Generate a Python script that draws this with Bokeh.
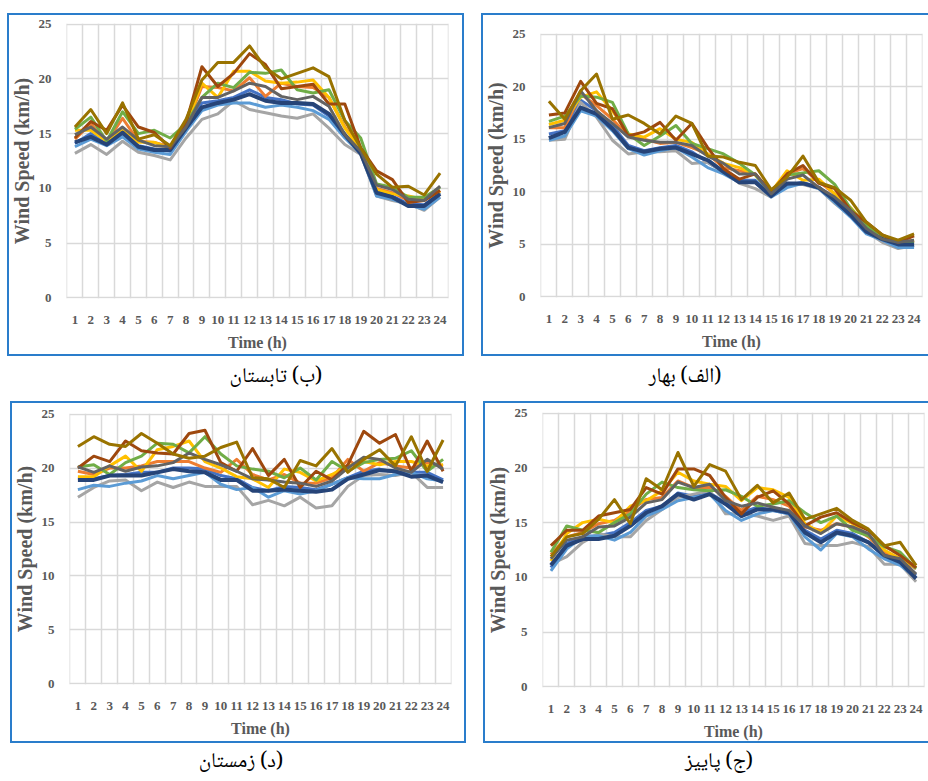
from bokeh.plotting import figure
from bokeh.models import Range1d, FixedTicker, Div, Spacer
from bokeh.layouts import row, column
from bokeh.embed import file_html
from bokeh.resources import INLINE

hours = list(range(1, 25))
hour_labels = [str(h) for h in hours]
y_ticks = [0, 5, 10, 15, 20, 25]
x_title = "Time (h)"
y_title = "Wind Speed (km/h)"

series_keys = ["blue", "orange", "gray", "gold", "lightblue", "green", "navy", "brown", "darkgray", "olive"]
series_colors = ["#4472C4", "#ED7D31", "#A5A5A5", "#FFC000", "#5B9BD5", "#70AD47", "#264478", "#9E480E", "#636363", "#997300"]

# ---- (ب) تابستان  (summer) ----
summer_blue = [14.1, 15.0, 14.0, 14.9, 13.9, 13.6, 13.4, 15.4, 17.8, 18.0, 18.3, 19.0, 18.3, 18.1, 17.7, 17.6, 16.6, 14.8, 13.3, 9.7, 9.3, 8.6, 8.5, 9.6]
summer_orange = [14.5, 15.9, 14.2, 16.4, 14.3, 14.2, 13.8, 15.6, 19.3, 19.2, 18.9, 20.1, 18.4, 19.6, 19.3, 19.2, 18.3, 15.6, 13.6, 10.0, 9.6, 8.9, 8.9, 9.8]
summer_gray = [13.2, 14.0, 13.1, 14.3, 13.3, 13.0, 12.6, 14.6, 16.3, 16.8, 18.0, 17.2, 16.9, 16.6, 16.4, 16.8, 15.5, 14.0, 13.1, 9.3, 8.9, 8.6, 8.0, 9.2]
summer_gold = [15.3, 15.3, 14.3, 15.3, 14.2, 14.2, 13.7, 15.8, 19.6, 18.3, 20.7, 20.7, 19.8, 19.6, 19.7, 19.9, 18.3, 15.5, 13.5, 9.9, 9.5, 9.3, 9.0, 9.7]
summer_lightblue = [13.8, 14.5, 13.9, 14.7, 13.6, 13.3, 13.1, 15.2, 17.1, 17.6, 17.8, 17.8, 17.4, 17.6, 17.4, 17.1, 16.3, 14.6, 13.2, 9.3, 9.0, 8.5, 8.1, 9.2]
summer_green = [15.4, 16.5, 14.3, 17.0, 15.0, 15.3, 14.6, 15.9, 18.3, 19.6, 19.2, 20.6, 20.5, 20.8, 19.0, 18.7, 19.0, 16.2, 14.6, 10.4, 10.1, 9.2, 9.2, 10.1]
summer_navy = [14.2, 14.7, 14.0, 15.1, 13.8, 13.5, 13.5, 15.5, 17.4, 17.8, 18.1, 18.6, 18.0, 17.8, 17.8, 17.7, 16.8, 14.9, 13.2, 9.6, 9.2, 8.4, 8.4, 9.5]
summer_brown = [14.6, 16.1, 15.3, 17.6, 15.6, 15.1, 13.7, 16.0, 21.1, 19.3, 20.5, 22.3, 21.3, 19.1, 19.3, 19.5, 17.7, 17.7, 13.7, 11.6, 10.8, 8.7, 8.9, 9.8]
summer_darkgray = [14.9, 15.6, 14.5, 15.6, 14.4, 13.9, 13.8, 15.6, 18.3, 18.3, 18.9, 19.6, 19.3, 18.4, 18.1, 18.4, 17.5, 14.9, 13.4, 10.3, 9.9, 9.0, 8.9, 10.2]
summer_olive = [15.6, 17.2, 15.0, 17.8, 14.5, 14.9, 13.9, 16.3, 19.9, 21.5, 21.5, 23.0, 21.0, 20.0, 20.5, 21.0, 20.2, 16.2, 13.7, 11.3, 10.1, 10.2, 9.4, 11.4]

# ---- (الف) بهار  (spring) ----
spring_blue = [15.5, 15.8, 18.7, 17.7, 16.3, 14.4, 13.9, 14.2, 14.4, 13.8, 12.8, 11.9, 11.1, 11.1, 9.7, 10.6, 10.9, 10.4, 9.3, 7.9, 6.3, 5.5, 4.9, 4.9]
spring_orange = [16.1, 16.1, 19.3, 18.2, 16.9, 15.3, 15.0, 14.6, 14.7, 14.2, 13.6, 12.3, 12.0, 11.7, 9.9, 11.7, 12.2, 11.0, 9.8, 8.2, 6.6, 5.6, 5.1, 5.3]
spring_gray = [14.9, 15.0, 18.5, 17.1, 14.9, 13.6, 13.8, 13.8, 13.9, 12.7, 12.8, 11.9, 10.8, 10.3, 9.5, 10.8, 10.7, 10.3, 8.9, 7.7, 6.2, 5.2, 4.6, 4.9]
spring_gold = [16.4, 16.8, 19.0, 19.5, 17.7, 15.5, 15.2, 16.0, 15.0, 14.7, 13.6, 12.7, 12.3, 11.6, 10.0, 12.0, 11.1, 11.2, 9.8, 8.5, 6.8, 5.6, 5.1, 5.4]
spring_lightblue = [14.9, 15.3, 17.7, 17.2, 15.8, 14.1, 13.5, 13.9, 14.2, 13.3, 12.3, 11.7, 10.9, 10.9, 9.5, 10.4, 10.8, 10.3, 9.0, 7.6, 6.0, 5.4, 4.7, 4.7]
spring_green = [16.7, 17.2, 19.1, 19.0, 18.5, 15.5, 14.4, 15.3, 16.3, 14.6, 14.1, 13.6, 12.7, 11.6, 9.9, 11.6, 11.8, 12.0, 10.7, 8.4, 6.8, 5.6, 5.1, 5.1]
spring_navy = [15.1, 15.7, 18.0, 17.4, 16.0, 14.2, 13.8, 14.1, 14.2, 13.6, 13.0, 11.9, 10.9, 10.9, 9.6, 10.8, 10.8, 10.4, 9.2, 7.8, 6.2, 5.5, 5.0, 5.0]
spring_brown = [17.3, 17.5, 20.5, 18.4, 17.9, 15.3, 15.7, 16.6, 14.9, 16.5, 14.2, 12.2, 11.2, 11.7, 10.0, 11.7, 12.5, 10.8, 10.3, 8.2, 7.1, 5.9, 5.2, 5.8]
spring_darkgray = [16.1, 16.5, 19.6, 17.7, 16.5, 15.2, 14.9, 14.7, 14.7, 14.4, 13.4, 12.7, 11.7, 11.7, 9.8, 11.2, 11.6, 10.4, 9.5, 8.2, 6.5, 5.5, 5.2, 5.4]
spring_olive = [18.6, 16.9, 19.6, 21.2, 16.9, 17.3, 16.5, 15.5, 17.2, 16.5, 13.4, 13.3, 12.8, 12.5, 10.2, 11.4, 13.4, 10.9, 10.4, 9.2, 7.1, 5.9, 5.4, 6.0]

# ---- (د) زمستان  (winter) ----
winter_blue = [19.0, 19.0, 19.3, 19.4, 19.6, 19.6, 20.0, 20.0, 19.9, 19.3, 19.0, 18.2, 17.9, 18.3, 18.2, 18.0, 18.5, 19.1, 19.7, 19.9, 19.6, 19.6, 19.6, 18.9]
winter_orange = [19.7, 19.4, 20.0, 20.0, 20.2, 20.6, 20.6, 20.6, 20.0, 19.6, 20.8, 19.4, 18.9, 19.4, 18.6, 18.6, 19.1, 20.8, 19.7, 20.5, 20.2, 20.0, 20.5, 20.2]
winter_gray = [17.3, 18.2, 18.8, 18.9, 17.9, 18.7, 18.2, 18.7, 18.3, 18.3, 18.3, 16.6, 17.0, 16.5, 17.3, 16.3, 16.5, 18.3, 19.3, 19.4, 19.3, 19.6, 18.2, 18.2]
winter_gold = [19.2, 19.2, 20.2, 21.1, 19.7, 21.7, 22.0, 22.5, 20.6, 20.0, 19.2, 19.0, 18.2, 19.9, 19.6, 18.8, 19.4, 20.2, 20.6, 20.3, 20.6, 20.6, 20.2, 20.3]
winter_lightblue = [18.0, 18.4, 18.3, 18.6, 18.8, 19.3, 19.0, 19.3, 19.6, 18.5, 18.0, 18.2, 17.3, 17.9, 17.6, 17.9, 18.5, 19.1, 19.0, 19.0, 19.4, 19.6, 19.0, 18.8]
winter_green = [20.1, 20.3, 19.4, 20.5, 21.1, 22.3, 22.2, 21.4, 22.9, 21.3, 20.2, 19.9, 19.7, 19.1, 20.0, 18.9, 20.6, 19.7, 20.5, 20.8, 20.9, 21.6, 19.7, 20.8]
winter_navy = [18.9, 18.9, 19.3, 19.3, 19.3, 19.6, 19.9, 19.7, 19.6, 18.9, 18.9, 17.9, 17.9, 18.0, 17.9, 17.8, 18.0, 19.0, 19.4, 19.8, 19.7, 19.2, 19.3, 18.7]
winter_brown = [20.0, 21.1, 20.6, 22.5, 21.6, 21.4, 21.3, 23.2, 23.5, 20.5, 19.7, 21.8, 19.3, 20.8, 18.2, 19.7, 18.9, 20.3, 23.4, 22.3, 23.1, 19.7, 22.5, 19.7]
winter_darkgray = [20.1, 19.6, 20.2, 19.7, 20.1, 20.2, 20.5, 21.4, 20.8, 20.3, 19.7, 19.0, 18.9, 18.7, 18.6, 18.3, 18.8, 20.0, 21.0, 20.8, 20.0, 19.6, 20.8, 19.9]
winter_olive = [22.0, 22.9, 22.2, 22.0, 23.2, 22.3, 21.3, 20.9, 21.1, 21.9, 22.4, 19.1, 19.0, 18.2, 20.7, 20.2, 21.8, 19.6, 20.8, 21.7, 20.2, 22.9, 19.7, 22.6]

# ---- (ج) پاییز  (autumn) ----
autumn_blue = [10.9, 13.1, 13.7, 13.8, 14.1, 15.0, 16.1, 16.5, 17.7, 17.4, 17.7, 16.8, 15.9, 16.4, 16.1, 15.8, 14.3, 13.5, 14.3, 14.0, 13.2, 11.9, 11.4, 10.2]
autumn_orange = [12.1, 13.7, 14.1, 14.9, 15.2, 16.1, 17.1, 17.3, 18.8, 18.2, 18.2, 17.4, 16.1, 17.4, 17.1, 16.5, 14.6, 14.3, 14.9, 14.6, 13.7, 12.3, 11.7, 10.8]
autumn_gray = [11.2, 11.9, 13.2, 14.0, 13.7, 13.7, 15.2, 16.2, 17.3, 17.6, 17.9, 15.8, 15.8, 15.6, 15.2, 15.6, 13.1, 12.9, 12.9, 13.2, 12.8, 11.2, 11.2, 9.6]
autumn_gold = [11.5, 14.0, 15.0, 15.3, 15.0, 16.5, 17.0, 17.9, 19.6, 18.8, 18.5, 18.3, 17.0, 18.2, 18.0, 17.3, 14.9, 14.1, 15.6, 14.9, 13.8, 12.5, 11.7, 10.9]
autumn_lightblue = [10.6, 12.6, 13.7, 13.8, 13.4, 14.1, 15.6, 16.2, 17.0, 17.3, 17.6, 16.1, 15.2, 15.8, 16.1, 15.8, 13.7, 12.5, 14.0, 13.7, 12.6, 11.7, 11.1, 10.0]
autumn_green = [12.3, 14.7, 14.3, 14.1, 15.0, 15.8, 17.6, 18.7, 18.2, 18.0, 17.9, 18.0, 17.4, 16.5, 16.7, 17.0, 15.9, 15.0, 15.6, 14.3, 13.8, 12.8, 12.3, 10.8]
autumn_navy = [11.1, 12.9, 13.5, 13.5, 13.8, 14.7, 15.9, 16.5, 17.6, 17.1, 17.6, 16.7, 15.6, 16.2, 16.2, 15.9, 14.1, 13.2, 14.1, 13.8, 13.2, 12.0, 11.4, 9.9]
autumn_brown = [12.9, 14.3, 14.3, 15.6, 15.9, 16.2, 18.2, 17.6, 19.9, 19.9, 19.3, 17.3, 15.8, 17.3, 17.9, 16.7, 14.7, 15.5, 15.9, 15.0, 14.3, 12.9, 12.0, 10.9]
autumn_darkgray = [11.7, 13.4, 13.7, 14.6, 14.7, 15.5, 16.8, 17.1, 18.7, 18.2, 18.5, 17.0, 16.5, 16.8, 16.4, 16.1, 14.7, 14.0, 14.9, 14.6, 14.0, 12.0, 11.7, 10.3]
autumn_olive = [11.9, 13.7, 14.0, 15.3, 17.1, 14.9, 19.0, 18.0, 21.4, 18.3, 20.3, 19.7, 17.1, 18.4, 16.8, 17.7, 15.3, 15.8, 16.3, 15.2, 14.4, 12.9, 13.2, 11.1]

caption_summer = "(ب) تابستان"
caption_spring = "(الف) بهار"
caption_winter = "(د) زمستان"
caption_autumn = "(ج) پاییز"

summer = [summer_blue, summer_orange, summer_gray, summer_gold, summer_lightblue, summer_green, summer_navy, summer_brown, summer_darkgray, summer_olive]
spring = [spring_blue, spring_orange, spring_gray, spring_gold, spring_lightblue, spring_green, spring_navy, spring_brown, spring_darkgray, spring_olive]
winter = [winter_blue, winter_orange, winter_gray, winter_gold, winter_lightblue, winter_green, winter_navy, winter_brown, winter_darkgray, winter_olive]
autumn = [autumn_blue, autumn_orange, autumn_gray, autumn_gold, autumn_lightblue, autumn_green, autumn_navy, autumn_brown, autumn_darkgray, autumn_olive]

SERIF = "Liberation Serif"
TXT = "#595959"
GRID = "#D9D9D9"
BORDER = "#2A7DCB"
RING_FULL = "inset 0 0 0 2px " + BORDER
RING_OPEN_RIGHT = "inset 2px 2px 0 0 %s, inset 0 -2px 0 0 %s" % (BORDER, BORDER)


def make_panel(series, w, h, bl, br, bt, bb, ring):
    p = figure(width=w, height=h, x_range=Range1d(0.47, 24.53), y_range=Range1d(-0.05, 25.05),
               output_backend="svg", toolbar_location=None,
               min_border_left=bl, min_border_right=br, min_border_top=bt, min_border_bottom=bb,
               background_fill_color="white", border_fill_color=None, outline_line_color=None,
               frame_align=False)
    p.styles = {"box-shadow": ring, "background-color": "white"}
    p.xaxis.ticker = FixedTicker(ticks=hours)
    p.xaxis.major_label_overrides = {h: s for h, s in zip(hours, hour_labels)}
    p.xgrid.ticker = FixedTicker(ticks=[x + 0.5 for x in range(0, 25)])
    p.yaxis.ticker = FixedTicker(ticks=y_ticks)
    for ax in (p.xaxis[0], p.yaxis[0]):
        ax.axis_line_color = None
        ax.major_tick_line_color = None
        ax.minor_tick_line_color = None
        ax.major_label_text_font = SERIF
        ax.major_label_text_font_style = "bold"
        ax.major_label_text_font_size = "13px"
        ax.major_label_text_color = TXT
        ax.axis_label_text_font = SERIF
        ax.axis_label_text_font_style = "bold"
        ax.axis_label_text_color = TXT
    p.xaxis.axis_label = x_title
    p.yaxis.axis_label = y_title
    p.xaxis.axis_label_text_font_size = "16px"
    p.yaxis.axis_label_text_font_size = "20px"
    p.xaxis.major_label_standoff = 11
    p.xaxis.axis_label_standoff = 7
    p.yaxis.major_label_standoff = 9
    p.yaxis.axis_label_standoff = 3
    for g in (p.xgrid[0], p.ygrid[0]):
        g.grid_line_color = GRID
        g.grid_line_width = 1.5
    for vals, key, col in zip(series, series_keys, series_colors):
        p.line(hours, vals, line_color=col, line_width=4 if key == "navy" else 3,
               line_join="round")
    return p


def caption(text, h, pad):
    html = ('<div dir="rtl" style="width:200px;text-align:center;'
            'font-family:\'Noto Naskh Arabic\',\'Noto Sans Arabic\',\'DejaVu Sans\',sans-serif;'
            'font-size:21px;line-height:22px;color:#000;padding-top:%dpx">%s</div>' % (pad, text))
    return Div(text=html, width=200, height=h, margin=(0, 0, 0, 0))


p_summer = make_panel(summer, 457, 343, 48, 16, 10, 58, RING_FULL)
p_spring = make_panel(spring, 447, 343, 46, 6, 20, 59, RING_OPEN_RIGHT)
p_winter = make_panel(winter, 456, 342, 49, 15, 12, 59, RING_FULL)
p_autumn = make_panel(autumn, 445, 342, 49, 4, 11, 56, RING_OPEN_RIGHT)

layout = column(
    Spacer(width=10, height=13),
    row(Spacer(width=7, height=10), p_summer, Spacer(width=17, height=10), p_spring),
    row(Spacer(width=176, height=10), caption(caption_summer, 45, 11),
        Spacer(width=209, height=10), caption(caption_spring, 45, 11)),
    row(Spacer(width=10, height=10), p_winter, Spacer(width=17, height=10), p_autumn),
    row(Spacer(width=141, height=10), caption(caption_winter, 38, 9),
        Spacer(width=278, height=10), caption(caption_autumn, 38, 9)),
)

open("out.html", "w").write(file_html(layout, INLINE))
